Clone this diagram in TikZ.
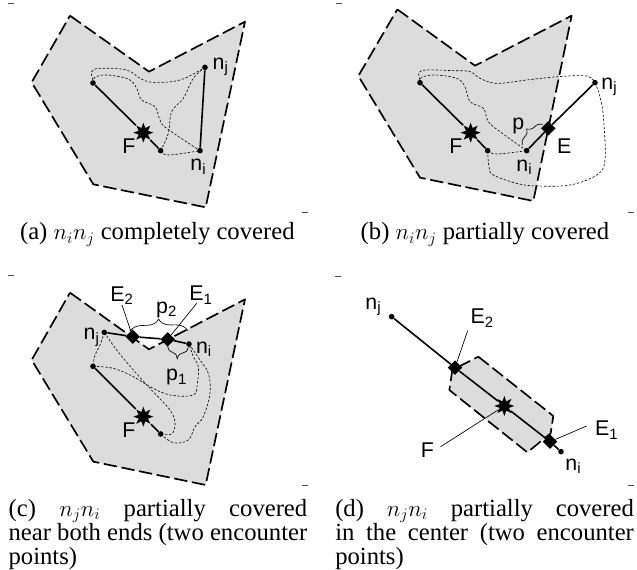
\documentclass[tikz,border=0pt]{standalone}
\usepackage{fontspec}
\setmainfont{Liberation Serif}
\newfontfamily\labfont{Liberation Sans}
\usetikzlibrary{shapes.geometric,decorations.pathreplacing}
\definecolor{zone}{HTML}{DCDCDC}
\tikzset{
  x=0.25pt,y=-0.25pt,
  zonefill/.style={fill=zone,draw=black,line width=1.25pt,dash pattern=on 10pt off 3.5pt,line join=round},
  tour/.style={line width=0.45pt,dash pattern=on 1.8pt off 1.3pt},
  seg/.style={line width=1.2pt},
  dotn/.style={circle,fill=black,inner sep=0pt,minimum size=4.2pt},
  firen/.style={star,star points=8,star point ratio=2.0,fill=black,inner sep=0pt,minimum size=15pt},
  enc/.style={diamond,aspect=1,fill=black,inner sep=0pt,minimum size=11pt},
  lab/.style={font=\labfont\fontsize{16}{18}\selectfont,inner sep=0pt},
  lead/.style={line width=0.5pt},
  brc/.style={line width=0.5pt,decorate},
  cropm/.style={line width=0.4pt,draw=black!70},
  captxt/.style={font=\fontsize{18.5}{18}\selectfont,inner sep=0pt},
  capj/.style={captxt,text width=224pt,align=justify,anchor=north west},
}
\newcommand{\subl}[2]{#1\textsubscript{#2}}
\begin{document}
\begin{tikzpicture}
\useasboundingbox (0,0) rectangle (1911,1710);
% ---------- (a)
\begin{scope}
\draw[zonefill] (210,47)--(447,215)--(735,65)--(617,622)--(280,553)--(95,247)--cycle;
\node[dotn] (aA) at (279,249) {};
\node[firen] (aF) at (430,398) {};
\node[dotn] (aB) at (482,452) {};
\node[dotn] (ai) at (600,452) {};
\node[dotn] (aj) at (615,202) {};
\draw[seg] (aA)--(aF)--(aB);
\draw[seg] (ai)--(aj);
\draw[tour] plot[smooth,tension=.6] coordinates {(279,249)(285,232)(320,225)(385,237)(410,265)(425,300)(465,320)(480,360)(500,385)(600,452)};
\draw[tour] plot[smooth,tension=.6] coordinates {(279,240)(275,215)(300,205)(380,210)(420,235)(460,247)(540,240)(615,202)};
\draw[tour] plot[smooth,tension=.6] coordinates {(615,202)(580,235)(550,295)(515,335)(505,400)(482,452)};
\draw[tour] plot[smooth,tension=.6] coordinates {(482,452)(505,465)(600,452)};
\node[lab] (aFl) at (387,438) {F};
\node[lab] (ail) at (595,500) {\subl{n}{i}};
\node[lab] (ajl) at (662,200) {\subl{n}{j}};
\node[captxt] (acap) at (472,703) {(a) $n_in_j$ completely covered};
\draw[cropm] (25,10)--(43,10);
\draw[cropm] (905,637)--(923,637);
\end{scope}
% ---------- (b)
\begin{scope}[shift={(960,0)}]
\draw[zonefill] (232,28)--(465,197)--(755,47)--(640,603)--(300,533)--(115,228)--cycle;
\node[dotn] (bA) at (300,248) {};
\node[firen] (bF) at (452,398) {};
\node[dotn] (bB) at (503,452) {};
\node[dotn] (bi) at (620,452) {};
\node[enc] (bE) at (685,385) {};
\node[dotn] (bj) at (825,248) {};
\draw[seg] (bA)--(bF)--(bB);
\draw[seg] (bi)--(bE)--(bj);
\draw[tour] plot[smooth,tension=.6] coordinates {(300,240)(297,218)(320,210)(400,212)(450,215)(480,235)(530,250)(620,240)(715,230)(800,228)(825,248)};
\draw[tour] plot[smooth,tension=.6] coordinates {(300,248)(305,232)(345,225)(410,235)(435,260)(450,305)(490,325)(505,365)(540,395)(620,452)};
\draw[tour] plot[smooth,tension=.6] coordinates {(503,452)(530,462)(620,452)};
\draw[tour] plot[smooth,tension=.6] coordinates {(503,452)(507,500)(520,525)(590,550)(650,558)(750,555)(830,525)(855,480)(850,350)(840,290)(825,248)};
\coordinate (bp1) at (607,435);
\coordinate (bp2) at (668,373);
\draw[brc,decoration={brace,amplitude=6pt}] (bp1)--(bp2);
\node[lab] (bFl) at (408,438) {F};
\node[lab] (bil) at (613,502) {\subl{n}{i}};
\node[lab] (bEl) at (733,438) {E};
\node[lab] (bpl) at (595,378) {p};
\node[lab] (bjl) at (868,260) {\subl{n}{j}};
\node[captxt] (bcap) at (495,703) {(b) $n_in_j$ partially covered};
\draw[cropm] (48,10)--(66,10);
\draw[cropm] (925,637)--(943,637);
\end{scope}
% ---------- (c)
\begin{scope}[shift={(0,780)}]
\draw[zonefill] (210,98)--(447,268)--(735,118)--(617,675)--(280,605)--(95,300)--cycle;
\node[dotn] (cA) at (279,319) {};
\node[firen] (cF) at (430,470) {};
\node[dotn] (cB) at (482,522) {};
\node[dotn] (cj) at (313,217) {};
\node[enc] (cE2) at (398,230) {};
\node[enc] (cE1) at (503,238) {};
\node[dotn] (ci) at (567,252) {};
\draw[seg] (cA)--(cF)--(cB);
\draw[seg] (cj)--(cE2)--(cE1)--(ci);
\draw[tour] plot[smooth,tension=.6] coordinates {(313,217)(300,255)(285,285)(279,319)};
\draw[tour] plot[smooth,tension=.6] coordinates {(279,319)(340,325)(400,350)(450,380)(510,405)(580,405)(592,370)(595,320)(580,290)(567,252)};
\draw[tour] plot[smooth,tension=.6] coordinates {(313,217)(350,270)(400,330)(450,385)(510,450)(525,490)(515,522)(482,522)};
\draw[tour] plot[smooth,tension=.6] coordinates {(567,252)(600,300)(625,340)(630,400)(610,470)(585,500)(565,540)(520,548)(482,522)};
\coordinate (cq1) at (390,215);
\coordinate (cq2) at (563,212);
\coordinate (cr1) at (503,258);
\coordinate (cr2) at (565,262);
\draw[brc,decoration={brace,amplitude=9pt}] (cq1)--(cq2);
\draw[brc,decoration={brace,amplitude=9pt,mirror}] (cr1)--(cr2);
\node[lab] (cE2l) at (366,107) {\subl{E}{2}};
\node[lab] (cE1l) at (603,105) {\subl{E}{1}};
\node[lab] (cp2l) at (500,150) {\subl{p}{2}};
\node[lab] (cp1l) at (530,352) {\subl{p}{1}};
\node[lab] (cjl) at (275,232) {\subl{n}{j}};
\node[lab] (cil) at (612,268) {\subl{n}{i}};
\node[lab] (cFl) at (387,510) {F};
\coordinate (cl2) at (366,135);
\coordinate (cl1) at (590,130);
\draw[lead] (cl2)--(cE2);
\draw[lead] (cl1)--(cE1);
\node[capj] (ccap) at (25,716) {(c) $n_jn_i$ partially covered\linebreak near both ends (two encounter\linebreak points)};
\draw[cropm] (25,47)--(43,47);
\draw[cropm] (905,675)--(923,675);
\end{scope}
% ---------- (d)
\begin{scope}[shift={(960,780)}]
\draw[zonefill] (475,290)--(700,468)--(692,520)--(622,577)--(388,390)--(397,330)--cycle;
\node[dotn] (dj) at (215,170) {};
\node[enc] (dE2) at (405,323) {};
\node[firen] (dF) at (553,438) {};
\node[enc] (dE1) at (690,545) {};
\node[dotn] (di) at (723,575) {};
\draw[seg] (dj)--(dE2)--(dF)--(dE1)--(di);
\node[lab] (djl) at (160,140) {\subl{n}{j}};
\node[lab] (dE2l) at (487,175) {\subl{E}{2}};
\node[lab] (dFl) at (322,570) {F};
\node[lab] (dE1l) at (860,510) {\subl{E}{1}};
\node[lab] (dil) at (760,618) {\subl{n}{i}};
\coordinate (dl2) at (443,212);
\coordinate (dlf) at (362,560);
\coordinate (dl1) at (800,498);
\draw[lead] (dl2)--(dE2);
\draw[lead] (dlf)--(dF);
\draw[lead] (dl1)--(dE1);
\node[capj] (dcap) at (45,716) {(d) $n_jn_i$ partially covered\linebreak in the center (two encounter\linebreak points)};
\draw[cropm] (45,50)--(63,50);
\draw[cropm] (925,677)--(943,677);
\end{scope}
\end{tikzpicture}
\end{document}
